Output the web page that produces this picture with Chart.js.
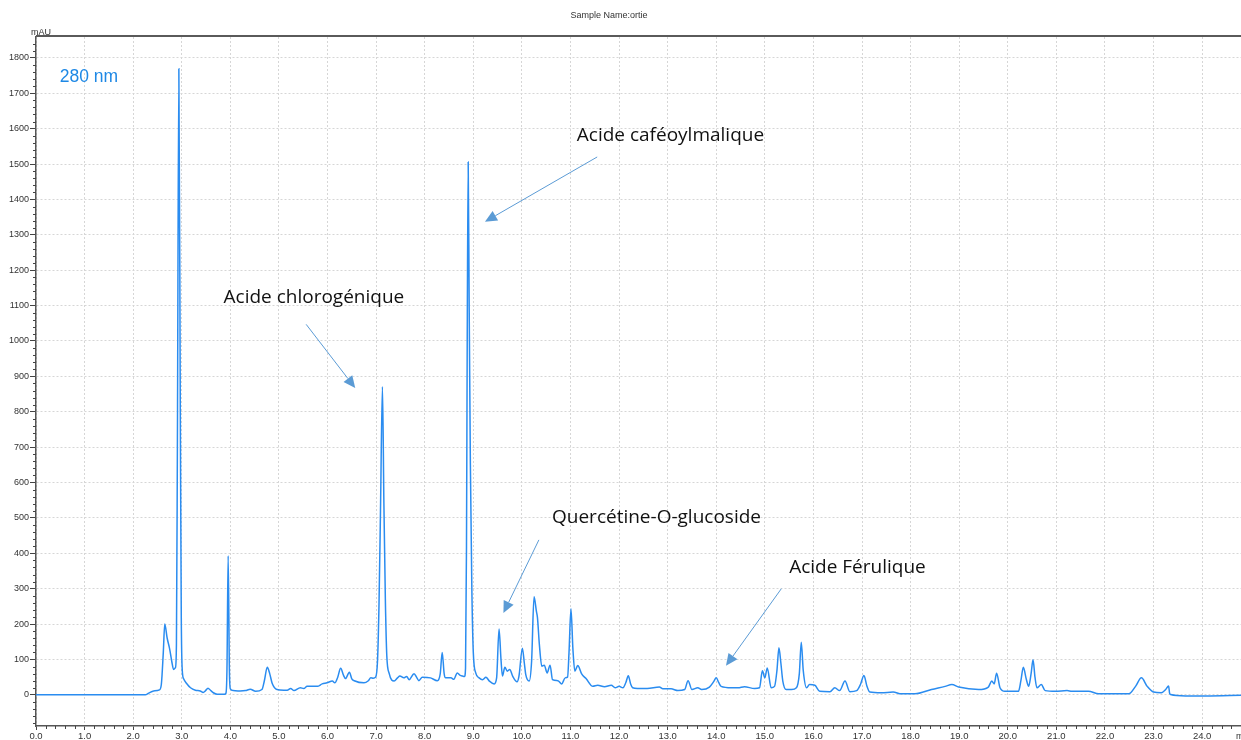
<!DOCTYPE html>
<html>
<head>
<meta charset="utf-8">
<script src="https://cdn.jsdelivr.net/npm/chart.js@4.4.1/dist/chart.umd.min.js"></script>
<style>
  html, body { margin: 0; padding: 0; background: #fff; }
  #wrap { width: 1241px; height: 740px; }
</style>
</head>
<body>
<div id="wrap"><canvas id="chromato" width="1241" height="740"></canvas></div>
<script>
const times = [
  0.0, 2.25, 2.32, 2.42, 2.54, 2.58, 2.62, 2.65, 2.70, 2.75, 2.80, 2.83, 2.87, 2.89, 2.91, 2.94, 2.97, 2.99,
  3.01, 3.04, 3.10, 3.18, 3.28, 3.38, 3.44, 3.49, 3.54, 3.59, 3.65, 3.73, 3.88, 3.91, 3.93, 3.955, 3.98,
  4.00, 4.06, 4.20, 4.31, 4.41, 4.52, 4.65, 4.70, 4.76, 4.81, 4.86, 4.96, 5.10, 5.17, 5.24, 5.31, 5.44,
  5.51, 5.58, 5.79, 5.89, 5.99, 6.10, 6.15, 6.21, 6.27, 6.33, 6.37, 6.45, 6.50, 6.55, 6.75, 6.84, 6.89,
  6.94, 6.99, 7.03, 7.06, 7.09, 7.13, 7.16, 7.19, 7.22, 7.27, 7.32, 7.37, 7.44, 7.49, 7.57, 7.63, 7.68,
  7.78, 7.84, 7.88, 7.95, 8.12, 8.26, 8.32, 8.36, 8.40, 8.43, 8.54, 8.60, 8.67, 8.73, 8.78, 8.82, 8.84,
  8.86, 8.875, 8.895, 8.915, 8.94, 8.97, 9.00, 9.05, 9.12, 9.19, 9.26, 9.33, 9.43, 9.48, 9.53, 9.57,
  9.60, 9.65, 9.70, 9.75, 9.81, 9.90, 9.94, 10.01, 10.05, 10.08, 10.15, 10.20, 10.25, 10.30, 10.32,
  10.36, 10.41, 10.46, 10.52, 10.58, 10.63, 10.74, 10.82, 10.89, 10.94, 10.97, 11.01, 11.05, 11.09,
  11.15, 11.23, 11.32, 11.46, 11.56, 11.70, 11.84, 11.92, 12.00, 12.08, 12.14, 12.19, 12.24, 12.28,
  12.38, 12.58, 12.83, 12.90, 13.07, 13.21, 13.35, 13.42, 13.50, 13.62, 13.70, 13.86, 13.95, 14.00,
  14.05, 14.10, 14.31, 14.45, 14.58, 14.79, 14.89, 14.95, 15.00, 15.05, 15.13, 15.20, 15.25, 15.29,
  15.33, 15.37, 15.44, 15.55, 15.65, 15.71, 15.75, 15.79, 15.86, 15.92, 16.03, 16.13, 16.34, 16.44,
  16.54, 16.65, 16.75, 16.89, 16.97, 17.04, 17.10, 17.16, 17.40, 17.64, 17.81, 18.09, 18.43, 18.71,
  18.85, 18.99, 19.40, 19.60, 19.67, 19.72, 19.77, 19.84, 19.94, 20.22, 20.27, 20.32, 20.38, 20.43,
  20.48, 20.52, 20.56, 20.60, 20.69, 20.77, 20.98, 21.22, 21.32, 21.66, 21.87, 22.49, 22.63, 22.75,
  22.87, 23.00, 23.16, 23.25, 23.31, 23.33, 23.35, 23.66, 24.07, 24.82
];
const absorbance = [
  0, 0, 5, 11, 14, 30, 120, 200, 160, 130, 90, 72, 77, 140, 700, 1769, 800, 220,
  70, 45, 32, 20, 13, 11, 7, 12, 19, 13, 6, 2, 2, 5, 70, 393, 70,
  17, 12, 11, 12, 16, 10, 15, 40, 78, 60, 33, 15, 13, 13, 18, 12, 20,
  18, 24, 24, 31, 34, 39, 34, 50, 75, 55, 46, 64, 45, 40, 34, 40, 48,
  47, 50, 100, 260, 520, 871, 540, 270, 110, 60, 42, 39, 48, 53, 48, 52, 43,
  60, 48, 40, 50, 48, 40, 60, 120, 60, 48, 48, 44, 62, 55, 53, 52, 75,
  420, 1000, 1506, 1100, 650, 300, 120, 62, 48, 43, 50, 39, 31, 48, 186, 100,
  53, 78, 67, 72, 53, 37, 53, 132, 90, 57, 39, 95, 277, 235, 219,
  142, 81, 84, 62, 84, 43, 40, 31, 48, 50, 120, 243, 130, 67,
  83, 59, 46, 24, 27, 23, 27, 20, 24, 20, 35, 54, 30, 20,
  18, 18, 22, 17, 17, 12, 15, 40, 15, 20, 15, 22, 38, 48,
  35, 24, 20, 20, 23, 18, 20, 68, 48, 76, 20, 24, 70, 133,
  90, 39, 15, 15, 20, 60, 149, 70, 20, 29, 27, 10, 9, 20,
  12, 39, 9, 12, 30, 55, 25, 8, 6, 8, 3, 3, 15, 24,
  29, 22, 15, 22, 39, 31, 61, 20, 10, 10, 40, 78, 45, 24,
  60, 99, 50, 20, 29, 12, 10, 12, 10, 10, 3, 3, 24, 48,
  24, 8, 6, 15, 25, 5, 1, -3, -3, -1
];

// Graduations
const xTicks = [0, 1, 2, 3, 4, 5, 6, 7, 8, 9, 10, 11, 12, 13, 14, 15, 16, 17, 18, 19, 20, 21, 22, 23, 24];
const yTicks = [0, 100, 200, 300, 400, 500, 600, 700, 800, 900, 1000, 1100, 1200, 1300, 1400, 1500, 1600, 1700, 1800];

// Annotations : texte, position du texte, origine et pointe de la flèche (min, mAU)
const labels = ['Acide caféoylmalique', 'Acide chlorogénique', 'Quercétine-O-glucoside', 'Acide Férulique'];
const labelPos = [[11.13, 1565], [3.86, 1107], [10.62, 486], [15.50, 345]];
const arrowFrom = [[11.55, 1520], [5.56, 1047], [10.35, 438], [15.34, 300]];
const arrowTo = [[9.24, 1337], [6.57, 867], [9.62, 231], [14.20, 82]];

const points = times.map((t, i) => ({ x: t, y: absorbance[i] }));

const smallFont = '"Liberation Sans", Arial, sans-serif';

// Dessins en plus : cadre du haut, petites graduations, textes, flèches
const extras = {
    id: 'extras',
    afterDraw(chart) {
        const { ctx, chartArea: a, scales: { x, y } } = chart;
        ctx.save();

        // cadre du haut
        ctx.strokeStyle = '#5a5a5a';
        ctx.lineWidth = 2;
        ctx.beginPath();
        ctx.moveTo(a.left, a.top - 1);
        ctx.lineTo(a.right, a.top - 1);
        ctx.stroke();

        // petites graduations
        ctx.strokeStyle = '#444';
        ctx.lineWidth = 1;
        ctx.beginPath();
        for (let i = 0; i <= 124; i++) {
            if (i % 5 === 0) continue;
            const px = Math.round(x.getPixelForValue(i / 5)) + 0.5;
            ctx.moveTo(px, a.bottom);
            ctx.lineTo(px, a.bottom + 3);
        }
        for (let v = -80; v <= 1850; v += 20) {
            if (v % 100 === 0) continue;
            const py = Math.round(y.getPixelForValue(v)) + 0.5;
            ctx.moveTo(a.left, py);
            ctx.lineTo(a.left - 3, py);
        }
        ctx.stroke();

        // titre et unités
        ctx.fillStyle = '#333';
        ctx.font = '9px ' + smallFont;
        ctx.textAlign = 'center';
        ctx.textBaseline = 'alphabetic';
        ctx.fillText('Sample Name:ortie', 609, 18);
        ctx.textAlign = 'left';
        ctx.fillText('mAU', 31, 35);
        ctx.fillText('min', 1236, 739);

        // longueur d'onde
        ctx.fillStyle = '#1e88e5';
        ctx.font = '17.5px ' + smallFont;
        ctx.fillText('280 nm', x.getPixelForValue(0.49), y.getPixelForValue(1732));

        // annotations
        ctx.font = '19px "Open Sans", sans-serif';
        ctx.fillStyle = '#111';
        labels.forEach((txt, i) => {
            ctx.fillText(txt, x.getPixelForValue(labelPos[i][0]), y.getPixelForValue(labelPos[i][1]));
        });

        ctx.strokeStyle = '#5b9bd5';
        ctx.fillStyle = '#5b9bd5';
        ctx.lineWidth = 1;
        arrowFrom.forEach((p, i) => {
            const x1 = x.getPixelForValue(p[0]), y1 = y.getPixelForValue(p[1]);
            const x2 = x.getPixelForValue(arrowTo[i][0]), y2 = y.getPixelForValue(arrowTo[i][1]);
            const ang = Math.atan2(y2 - y1, x2 - x1);
            const len = 12, half = 5.5;
            const bx = x2 - len * Math.cos(ang), by = y2 - len * Math.sin(ang);
            ctx.beginPath();
            ctx.moveTo(x1, y1);
            ctx.lineTo(bx, by);
            ctx.stroke();
            ctx.beginPath();
            ctx.moveTo(x2, y2);
            ctx.lineTo(bx + half * Math.sin(ang), by - half * Math.cos(ang));
            ctx.lineTo(bx - half * Math.sin(ang), by + half * Math.cos(ang));
            ctx.closePath();
            ctx.fill();
        });

        ctx.restore();
    }
};

const config = {
    type: 'line',
    data: {
        datasets: [{
            label: 'ortie 280 nm',
            data: points,
            borderColor: '#2a8cf0',
            borderWidth: 1.5,
            pointRadius: 0,
            fill: false,
            cubicInterpolationMode: 'monotone'
        }]
    },
    options: {
        responsive: false,
        animation: false,
        events: [],
        layout: { padding: { top: 37, left: 0, right: 0, bottom: 0 } },
        plugins: {
            legend: { display: false },
            tooltip: { enabled: false }
        },
        scales: {
            x: {
                type: 'linear',
                min: 0,
                max: 24.8,
                afterBuildTicks: s => { s.ticks = xTicks.map(v => ({ value: v })); },
                afterFit: s => { s.height = 14; },
                grid: { color: '#d6d6d6', lineWidth: 1, tickLength: 4, tickColor: '#444', tickWidth: 1 },
                border: { color: '#555', width: 1.5, dash: [2, 2] },
                ticks: {
                    autoSkip: false,
                    maxRotation: 0,
                    padding: 1,
                    color: '#333',
                    font: { family: smallFont, size: 9.5 },
                    callback: v => v.toFixed(1)
                }
            },
            y: {
                min: -88,
                max: 1859,
                afterBuildTicks: s => { s.ticks = yTicks.map(v => ({ value: v })); },
                afterFit: s => { s.width = 36; },
                grid: { color: '#d6d6d6', lineWidth: 1, tickLength: 6, tickColor: '#444', tickWidth: 1 },
                border: { color: '#555', width: 1.5, dash: [2, 2] },
                ticks: {
                    autoSkip: false,
                    padding: 1,
                    color: '#333',
                    font: { family: smallFont, size: 9 },
                    callback: v => String(v)
                }
            }
        }
    },
    plugins: [extras]
};

window.onload = function () {
    const ctx = document.getElementById('chromato').getContext('2d');
    new Chart(ctx, config);
};
</script>
</body>
</html>
